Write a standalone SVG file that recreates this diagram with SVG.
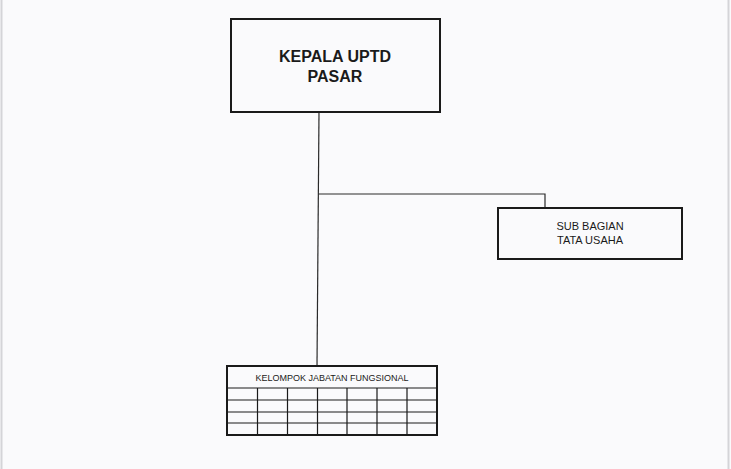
<svg xmlns="http://www.w3.org/2000/svg" width="731" height="469" viewBox="0 0 731 469">
<style>
.box{fill:none;stroke:#1a1a1a;stroke-width:2}
.grid{fill:none;stroke:#1a1a1a;stroke-width:1.2}
.conn{fill:none;stroke:#2a2a2a;stroke-width:1.2}
.t{font-family:"Liberation Sans",Arial,sans-serif;fill:#1a1a1a;text-anchor:middle}
.big{font-size:16px;font-weight:bold}
.mid{font-size:11px}
.small{font-size:9px}
</style>
<rect x="0" y="0" width="731" height="469" fill="#fafafc"/>
<line x1="1.5" y1="0" x2="1.5" y2="469" stroke="#d4d4d8" stroke-width="2"/>
<line x1="728.5" y1="0" x2="728.5" y2="469" stroke="#d4d4d8" stroke-width="2"/>
<g id="connectors">
<path class="conn" d="M319 112 L317 366"/>
<path class="conn" d="M318.5 194 L545 194 L545 207"/>
</g>
<g id="kepala">
<rect class="box" x="231" y="19" width="209" height="93"/>
<text class="t big" x="335" y="62">KEPALA UPTD</text>
<text class="t big" x="335" y="82">PASAR</text>
</g>
<g id="subbagian">
<rect class="box" x="498" y="208" width="184" height="51"/>
<text class="t mid" x="590" y="230">SUB BAGIAN</text>
<text class="t mid" x="590" y="244">TATA USAHA</text>
</g>
<g id="kelompok">
<rect class="box" x="227" y="366" width="210" height="69"/>
<text class="t small" x="332" y="381">KELOMPOK JABATAN FUNGSIONAL</text>
<path class="grid" d="M227 388 H437 M227 400 H437 M227 412 H437 M227 423 H437 M257.5 388 V435 M287.5 388 V435 M317.5 388 V435 M347 388 V435 M377 388 V435 M407 388 V435"/>
</g>
</svg>
